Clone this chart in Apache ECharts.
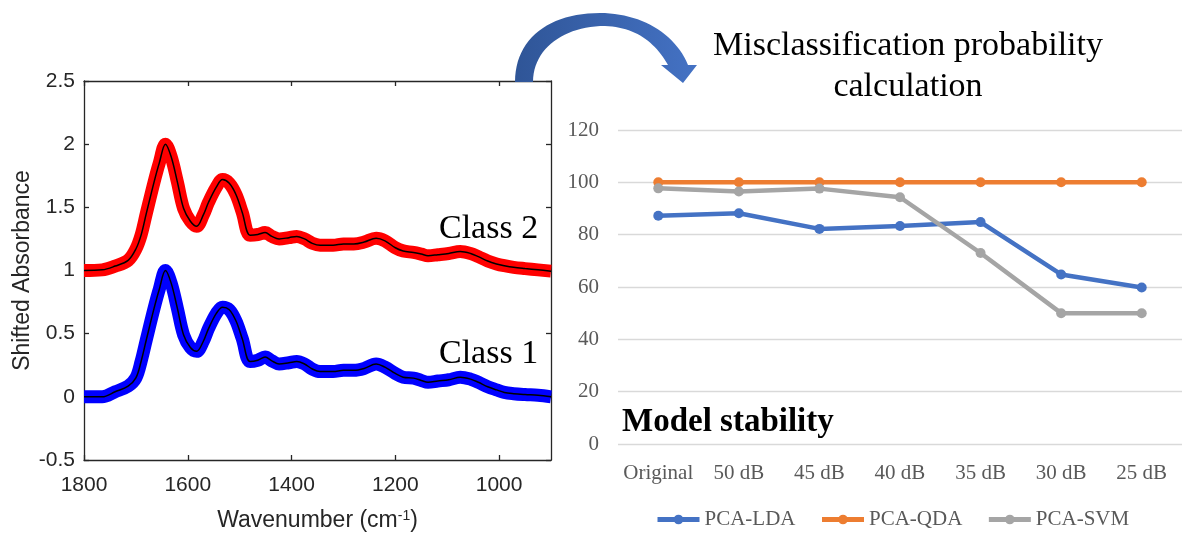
<!DOCTYPE html>
<html>
<head>
<meta charset="utf-8">
<script src="https://cdn.jsdelivr.net/npm/echarts@6/dist/echarts.min.js"></script>
<style>
  html, body { margin: 0; padding: 0; background: #ffffff; }
  #chart { width: 1182px; height: 537px; }
</style>
</head>
<body>
<div id="chart"></div>
<script>
// FTIR spectra (shifted absorbance) for the two classes
const wavenumbers = [1800, 1765, 1740, 1715, 1700, 1690, 1680, 1665, 1655, 1643, 1632, 1620, 1608, 1595, 1583,
  1570, 1560, 1545, 1533, 1520, 1507, 1495, 1480, 1465, 1451, 1438, 1424, 1405, 1390, 1375, 1360, 1345, 1320,
  1300, 1280, 1260, 1237, 1220, 1200, 1185, 1165, 1150, 1137, 1118, 1097, 1075, 1055, 1040, 1022, 1005, 990,
  972, 950, 925, 900];
const class1Absorbance = [0, 0.0, 0.04, 0.085, 0.15, 0.28, 0.45, 0.70, 0.85, 1.0, 0.90, 0.70, 0.49, 0.39, 0.36,
  0.44, 0.54, 0.66, 0.71, 0.69, 0.60, 0.46, 0.28, 0.29, 0.315, 0.285, 0.26, 0.27, 0.28, 0.26, 0.22, 0.20, 0.20,
  0.21, 0.21, 0.225, 0.26, 0.235, 0.185, 0.155, 0.148, 0.13, 0.115, 0.125, 0.135, 0.155, 0.14, 0.115, 0.08,
  0.055, 0.035, 0.025, 0.018, 0.012, 0.0];
const class2Absorbance = [1.0, 1.005, 1.035, 1.08, 1.17, 1.28, 1.45, 1.70, 1.85, 2.0, 1.90, 1.70, 1.49, 1.39, 1.35,
  1.44, 1.54, 1.66, 1.72, 1.69, 1.60, 1.46, 1.28, 1.285, 1.30, 1.27, 1.25, 1.26, 1.27, 1.25, 1.215, 1.2, 1.2,
  1.21, 1.21, 1.225, 1.255, 1.235, 1.18, 1.155, 1.143, 1.13, 1.117, 1.125, 1.135, 1.15, 1.135, 1.11, 1.075,
  1.052, 1.038, 1.025, 1.015, 1.005, 0.995];
const wavenumberTicks = [1000, 1200, 1400, 1600, 1800];

// Model stability under added noise
const noiseLevels = ['Original', '50 dB', '45 dB', '40 dB', '35 dB', '30 dB', '25 dB'];
const pcaLda = [87.2, 88.2, 82.2, 83.3, 84.8, 64.8, 59.8];
const pcaQda = [100, 100, 100, 100, 100, 100, 100];
const pcaSvm = [97.7, 96.5, 97.6, 94.3, 73, 50, 50];

const sans = 'Liberation Sans, Arial, sans-serif';
const serif = 'Liberation Serif, Times New Roman, serif';
const axisInk = '#262626';

const pairs = (xs, ys) => xs.map((x, i) => [x, ys[i]]);

// Sample a cubic Bezier segment into polygon points
function cubic(p0, p1, p2, p3, steps) {
  const pts = [];
  for (let i = 0; i <= steps; i++) {
    const t = i / steps, u = 1 - t;
    pts.push([
      u * u * u * p0[0] + 3 * u * u * t * p1[0] + 3 * u * t * t * p2[0] + t * t * t * p3[0],
      u * u * u * p0[1] + 3 * u * u * t * p1[1] + 3 * u * t * t * p2[1] + t * t * t * p3[1]
    ]);
  }
  return pts;
}

// Curved arrow outline: outer arc, arrow head, inner arc back to the base
const arrowPoints = [].concat(
  cubic([515, 82], [515, 38], [550, 13], [600, 13], 24),
  cubic([600, 13], [640, 13], [675, 33], [688, 65], 24),
  [[697, 65], [683, 83], [661, 65], [668, 65]],
  cubic([668, 65], [655, 42], [635, 27], [605, 26], 24),
  cubic([605, 26], [565, 26], [533, 48], [533, 82], 24)
);

const boxAxis = {
  axisLine: { show: true, onZero: false, lineStyle: { color: axisInk, width: 1.3 } },
  axisTick: { show: true, inside: true, length: 5, lineStyle: { color: axisInk, width: 1.3 } },
  splitLine: { show: false }
};

const chart = echarts.init(document.getElementById('chart'), null, { renderer: 'canvas' });

function spectrum(values, color) {
  return [
    {
      type: 'line', xAxisIndex: 0, yAxisIndex: 0, data: pairs(wavenumbers, values),
      showSymbol: false, smooth: 0.35, silent: true, z: 2,
      lineStyle: { color: color, width: 13, join: 'round', cap: 'butt' }
    },
    {
      type: 'line', xAxisIndex: 0, yAxisIndex: 0, data: pairs(wavenumbers, values),
      showSymbol: false, smooth: 0.35, silent: true, z: 3,
      lineStyle: { color: '#000000', width: 1.5 }
    }
  ];
}

function stabilityLine(name, values, color) {
  return {
    name: name, type: 'line', xAxisIndex: 2, yAxisIndex: 2, data: values,
    symbol: 'circle', symbolSize: 10, z: 4,
    itemStyle: { color: color },
    lineStyle: { color: color, width: 4.5 }
  };
}

const option = {
  animation: false,
  backgroundColor: '#ffffff',
  grid: [
    { left: 84, right: 631, top: 81, bottom: 71 },
    { left: 618, right: -7, top: 130, bottom: 93 }
  ],
  xAxis: [
    Object.assign({}, boxAxis, {
      type: 'value', gridIndex: 0, position: 'bottom', min: 900, max: 1800, inverse: true,
      axisTick: Object.assign({}, boxAxis.axisTick, { customValues: wavenumberTicks }),
      axisLabel: {
        customValues: wavenumberTicks, formatter: (v) => String(v),
        color: axisInk, fontFamily: sans, fontSize: 21, margin: 15
      },
      name: '{a|Wavenumber (cm}{s|-1}{a|)}', nameLocation: 'middle', nameGap: 49,
      nameTextStyle: {
        rich: {
          a: { fontFamily: sans, fontSize: 23, color: axisInk },
          s: { fontFamily: sans, fontSize: 14, color: axisInk, verticalAlign: 'top' }
        }
      }
    }),
    Object.assign({}, boxAxis, {
      type: 'value', gridIndex: 0, position: 'top', min: 900, max: 1800, inverse: true,
      axisTick: Object.assign({}, boxAxis.axisTick, { customValues: wavenumberTicks }),
      axisLabel: { show: false }
    }),
    {
      type: 'category', gridIndex: 1, data: noiseLevels, boundaryGap: true,
      axisLine: { show: false }, axisTick: { show: false }, splitLine: { show: false },
      axisLabel: { color: '#595959', fontFamily: serif, fontSize: 21, margin: 19, interval: 0 }
    }
  ],
  yAxis: [
    Object.assign({}, boxAxis, {
      type: 'value', gridIndex: 0, position: 'left', min: -0.5, max: 2.5, interval: 0.5,
      axisLabel: { color: axisInk, fontFamily: sans, fontSize: 21, margin: 9 },
      name: 'Shifted Absorbance', nameLocation: 'middle', nameGap: 50,
      nameTextStyle: { fontFamily: sans, fontSize: 23, color: axisInk }
    }),
    Object.assign({}, boxAxis, {
      type: 'value', gridIndex: 0, position: 'right', min: -0.5, max: 2.5, interval: 0.5,
      axisLabel: { show: false }
    }),
    {
      type: 'value', gridIndex: 1, min: 0, max: 120, interval: 20,
      axisLine: { show: false }, axisTick: { show: false },
      splitLine: { show: true, lineStyle: { color: '#D9D9D9', width: 1.3 } },
      axisLabel: { color: '#595959', fontFamily: serif, fontSize: 21, margin: 19 }
    }
  ],
  legend: {
    data: ['PCA-LDA', 'PCA-QDA', 'PCA-SVM'],
    left: 655, top: 509, padding: 0, itemWidth: 42, itemHeight: 12, itemGap: 24,
    lineStyle: { width: 5 },
    textStyle: { fontFamily: serif, fontSize: 21, color: '#595959' }
  },
  series: [].concat(
    spectrum(class2Absorbance, '#FF0000'),
    spectrum(class1Absorbance, '#0000FF'),
    [
      stabilityLine('PCA-LDA', pcaLda, '#4472C4'),
      stabilityLine('PCA-QDA', pcaQda, '#ED7D31'),
      stabilityLine('PCA-SVM', pcaSvm, '#A5A5A5')
    ]
  ),
  graphic: [
    {
      type: 'polygon', z: 10,
      shape: { points: arrowPoints },
      style: {
        fill: {
          type: 'linear', x: 0, y: 0, x2: 1, y2: 0,
          colorStops: [
            { offset: 0, color: '#2F5597' },
            { offset: 1, color: '#4472C4' }
          ]
        }
      }
    },
    {
      type: 'text', left: 439, top: 212, z: 10,
      style: { text: 'Class 2', font: '34px ' + serif, fill: '#000000' }
    },
    {
      type: 'text', left: 439, top: 337, z: 10,
      style: { text: 'Class 1', font: '34px ' + serif, fill: '#000000' }
    },
    {
      type: 'text', left: 622, top: 406, z: 10,
      style: { text: 'Model stability', font: 'bold 33px ' + serif, fill: '#000000' }
    },
    {
      type: 'text', z: 10, x: 908, y: 46.5,
      style: { text: 'Misclassification probability', font: '34px ' + serif, fill: '#000000',
        align: 'center', verticalAlign: 'middle' }
    },
    {
      type: 'text', z: 10, x: 908, y: 87.5,
      style: { text: 'calculation', font: '34px ' + serif, fill: '#000000',
        align: 'center', verticalAlign: 'middle' }
    }
  ]
};

chart.setOption(option);
</script>
</body>
</html>
